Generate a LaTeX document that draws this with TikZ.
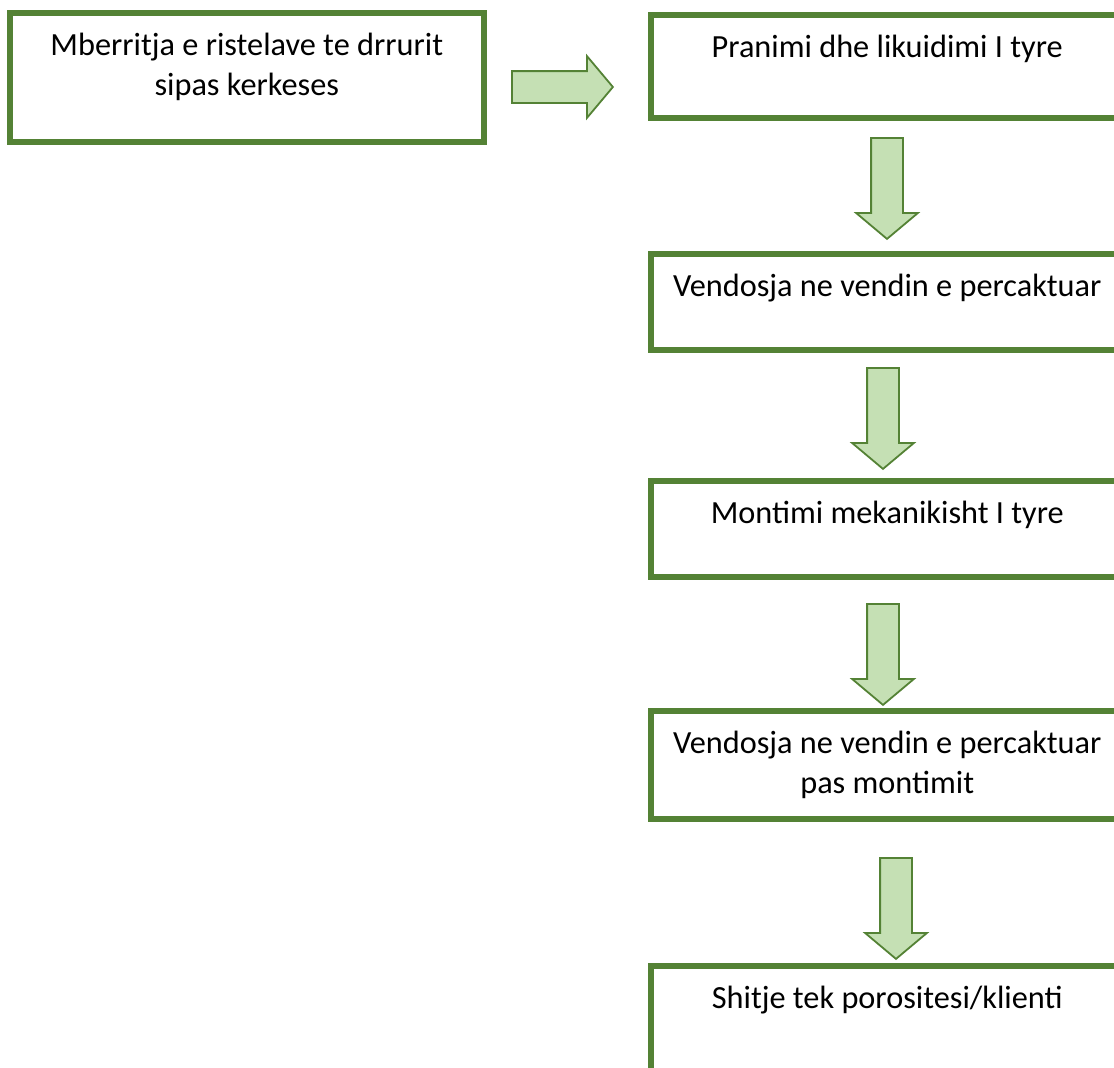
\documentclass[tikz,border=0pt]{standalone}
\usepackage{fontspec}
\setmainfont{Carlito}
\usetikzlibrary{shapes.arrows}

\definecolor{boxgreen}{HTML}{548235}
\definecolor{arrowfill}{HTML}{C5E0B4}

\begin{document}
\begin{tikzpicture}[x=1pt,y=-1pt,
  stepbox/.style={draw=boxgreen,line width=6pt,fill=white,rectangle,
    inner sep=0pt,outer sep=0pt,anchor=north west},
  steptext/.style={anchor=base,align=center,inner sep=0pt,
    font=\fontsize{32.3}{40}\selectfont},
  fatarrow/.style={single arrow,draw=boxgreen,fill=arrowfill,line width=1.8pt,
    minimum height=101pt,inner sep=15pt,single arrow head extend=15pt,
    single arrow tip angle=100,anchor=tail}]
\useasboundingbox (0,0) rectangle (1114,1068);
\clip (0,0) rectangle (1114,1068);
% boxes
\node[stepbox,minimum width=473.5pt,minimum height=128.5pt] (b1) at (10,13) {};
\node[stepbox,minimum width=473.5pt,minimum height=103pt] (b2) at (650.5,15) {};
\node[stepbox,minimum width=473.5pt,minimum height=96pt] (b3) at (650.5,253.5) {};
\node[stepbox,minimum width=473.5pt,minimum height=96pt] (b4) at (650.5,481) {};
\node[stepbox,minimum width=473.5pt,minimum height=108pt] (b5) at (650.5,711) {};
\node[stepbox,minimum width=473.5pt,minimum height=120pt] (b6) at (650.5,965.5) {};
% texts (two-line ones sit on their last line)
\node[steptext] (t1) at ([yshift=-82.5pt]b1.north) {Mberritja e ristelave te drrurit\\sipas kerkeses};
\node[steptext] (t2) at ([yshift=-42.5pt]b2.north) {Pranimi dhe likuidimi I tyre};
\node[steptext] (t3) at ([yshift=-42.5pt]b3.north) {Vendosja ne vendin e percaktuar};
\node[steptext] (t4) at ([yshift=-42.5pt]b4.north) {Montimi mekanikisht I tyre};
\node[steptext] (t5) at ([yshift=-82.5pt]b5.north) {Vendosja ne vendin e percaktuar\\pas montimit};
\node[steptext] (t6) at ([yshift=-42.5pt]b6.north) {Shitje tek porositesi/klienti};
% arrows
\node[fatarrow] (a1) at (511,87) {};
\node[fatarrow,rotate=-90] (a2) at (887,137) {};
\node[fatarrow,rotate=-90] (a3) at (883,367) {};
\node[fatarrow,rotate=-90] (a4) at (883,603) {};
\node[fatarrow,rotate=-90] (a5) at (896,857) {};
\end{tikzpicture}
\end{document}
